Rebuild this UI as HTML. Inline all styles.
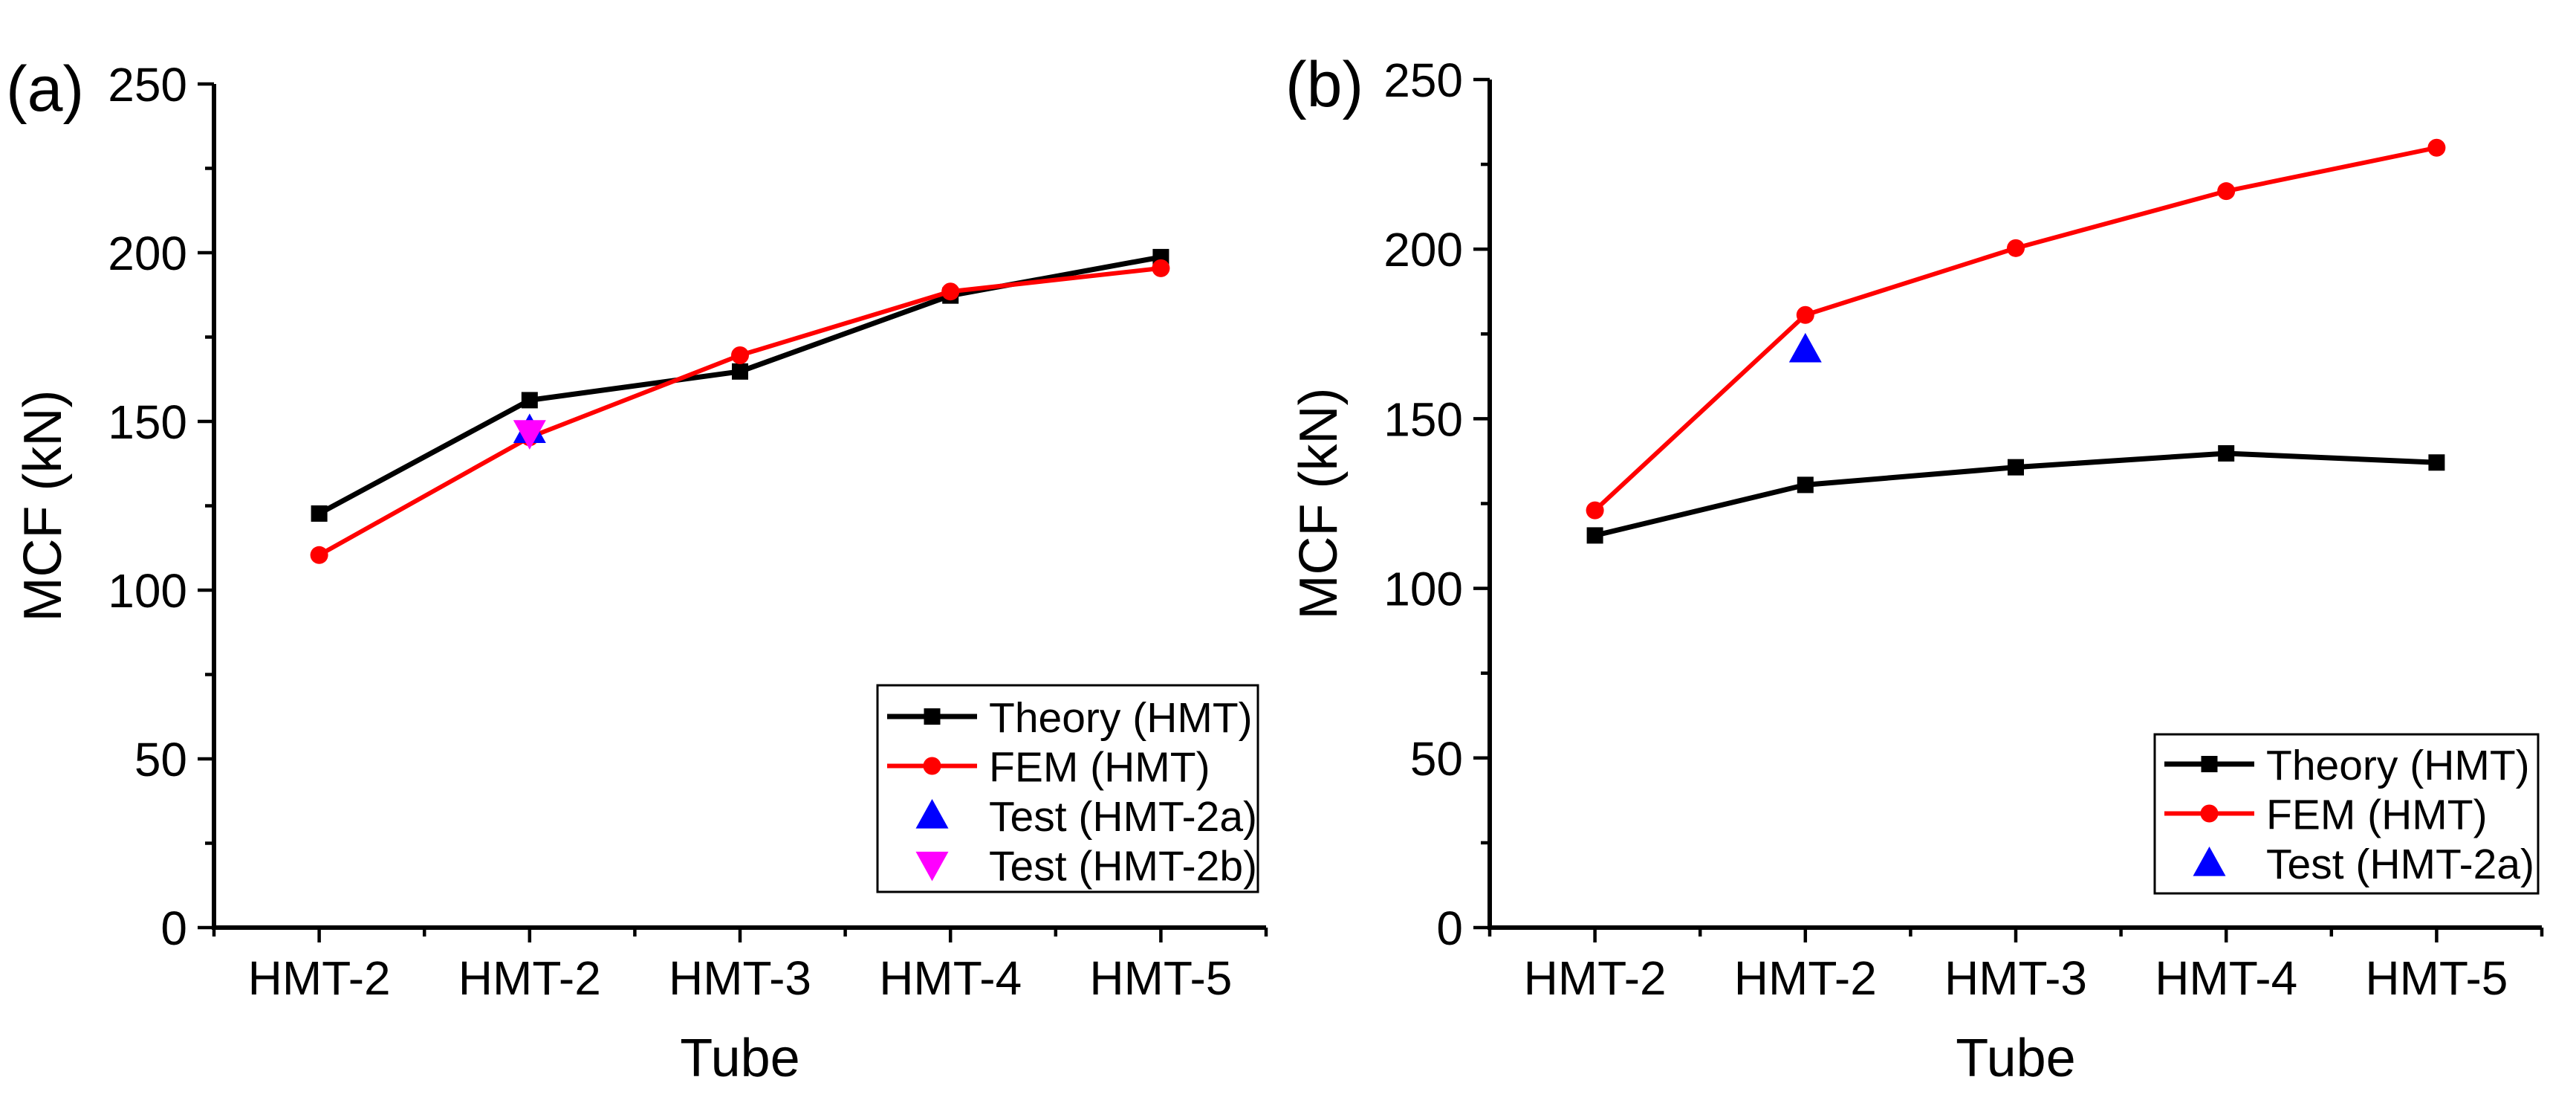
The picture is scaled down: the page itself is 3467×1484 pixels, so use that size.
<!DOCTYPE html>
<html><head><meta charset="utf-8"><style>
html,body{margin:0;padding:0;background:#fff}
svg{display:block;font-family:"Liberation Sans",Arial,sans-serif}
</style></head><body>
<svg id="chart" width="3467" height="1484" viewBox="0 0 3467 1484" xmlns="http://www.w3.org/2000/svg"></svg>
<script>
const categories = ["HMT-2","HMT-2","HMT-3","HMT-4","HMT-5"];
const yTicks = [0,50,100,150,200,250];
const theoryA = [122.7,156.3,164.8,187.3,198.7];
const femA = [110.4,145.3,169.6,188.5,195.4];
const testA2a = [147.5];
const testA2b = [146.5];
const theoryB = [115.6,130.5,135.7,139.8,137.1];
const femB = [123.0,180.6,200.3,217.1,229.9];
const testB2a = [170.5];

const NS="http://www.w3.org/2000/svg";
const svg=document.getElementById('chart');
function mk(tag,attrs,parent,text){const e=document.createElementNS(NS,tag);for(const k in attrs)e.setAttribute(k,attrs[k]);if(text!==undefined)e.textContent=text;(parent||svg).appendChild(e);return e;}

function panel(cfg){
  const g=mk('g',{});
  
  
  const L=cfg.left,R=cfg.right,T=cfg.top,B=cfg.bottom;
  const xs=i=>L+(i+0.5)*(R-L)/categories.length;
  const ys=v=>B-(v/250)*(B-T);
  const ax=mk('path',{d:`M${L},${T} L${L},${B} L${R},${B}`,fill:'none',stroke:'#000','stroke-width':6},g);
  
  
  for(let v=0;v<=250;v+=25){
    const major=v%50===0;
    mk('line',{x1:L-(major?22:12),x2:L,y1:ys(v),y2:ys(v),stroke:'#000','stroke-width':4.5},g);
  }
  yTicks.forEach(v=>{
    const t=mk('text',{x:L-36,y:ys(v)+23,'text-anchor':'end','font-size':64},g,String(v));
    
    
  });
  const step=(R-L)/categories.length;
  for(let i=0;i<=categories.length*2;i++){
    const x=L+i*step/2;
    const major=i%2===1;
    mk('line',{x1:x,x2:x,y1:B,y2:B+(major?20:12),stroke:'#000','stroke-width':4.5},g);
  }
  categories.forEach((c,i)=>{
    const t=mk('text',{x:xs(i),y:B+90,'text-anchor':'middle','font-size':64},g,c);
    
    
  });
  const xt=mk('text',{x:(L+R)/2,y:1448,'text-anchor':'middle','font-size':72},g,'Tube');
  
  
  const yt=mk('text',{x:cfg.ytx,y:(T+B)/2,'text-anchor':'middle','font-size':72,transform:`rotate(-90 ${cfg.ytx} ${(T+B)/2})`},g,'MCF (kN)');
  
  
  const pl=mk('text',{x:cfg.plx,y:T+36,'font-size':86},g,cfg.label);
  
  

  function series(vals,color,marker,name,w){
    const sg=mk('g',{},g);
    
    
    mk('polyline',{points:vals.map((v,i)=>xs(i)+','+ys(v)).join(' '),fill:'none',stroke:color,'stroke-width':w},sg);
    vals.forEach((v,i)=>{
      let m;
      if(marker==='sq') m=mk('rect',{x:xs(i)-11,y:ys(v)-11,width:22,height:22,fill:color},sg);
      else m=mk('circle',{cx:xs(i),cy:ys(v),r:12,fill:color},sg);
      
      
    });
  }
  function tri(cx,cy,color,up){
    const s=22;
    const p=up?`${cx},${cy-s} ${cx-s},${cy+s*0.8} ${cx+s},${cy+s*0.8}`:`${cx},${cy+s} ${cx-s},${cy-s*0.8} ${cx+s},${cy-s*0.8}`;
    return mk('polygon',{points:p,fill:color},g);
  }
  series(cfg.theory,'#000','sq','theory-series',7);
  series(cfg.fem,'#ff0000','ci','fem-series',6);
  cfg.tests.forEach(t=>{
    t.vals.forEach(v=>{
      const m=tri(xs(1),ys(v),t.color,t.up);
      
      
    });
  });
  const lg=mk('g',{},g);
  
  
  const lb=cfg.legend;
  mk('rect',{x:lb.x,y:lb.y,width:lb.w,height:lb.h,fill:'#fff',stroke:'#000','stroke-width':3},lg);
  lb.entries.forEach((e,i)=>{
    const y=lb.ey0+i*66.5;
    const eg=mk('g',{},lg);
    
    
    const lx1=lb.x+13,lx2=lb.x+134,mx=(lx1+lx2)/2;
    if(e.type==='line-sq'){mk('line',{x1:lx1,x2:lx2,y1:y,y2:y,stroke:'#000','stroke-width':7},eg);mk('rect',{x:mx-11,y:y-11,width:22,height:22,fill:'#000'},eg);}
    else if(e.type==='line-ci'){mk('line',{x1:lx1,x2:lx2,y1:y,y2:y,stroke:'#f00','stroke-width':6},eg);mk('circle',{cx:mx,cy:y,r:12,fill:'#f00'},eg);}
    else {eg.appendChild(tri(mx,y,e.color,e.up));}
    mk('text',{x:lb.x+150,y:y+21,'font-size':57},eg,e.text);
  });
}

panel({name:'panel-a',label:'(a)',left:288,right:1704,top:113,bottom:1248,ytx:82,plx:8,
  theory:theoryA,fem:femA,
  tests:[{vals:testA2a,color:'#0000ff',up:true,name:'test-hmt-2a-point'},{vals:testA2b,color:'#ff00ff',up:false,name:'test-hmt-2b-point'}],
  legend:{x:1181,y:922,w:512,h:278,ey0:964,entries:[
    {type:'line-sq',text:'Theory (HMT)'},{type:'line-ci',text:'FEM (HMT)'},
    {type:'tri',color:'#0000ff',up:true,text:'Test (HMT-2a)'},{type:'tri',color:'#ff00ff',up:false,text:'Test (HMT-2b)'}]}
});
panel({name:'panel-b',label:'(b)',left:2005,right:3421,top:107,bottom:1248,ytx:1799,plx:1730,
  theory:theoryB,fem:femB,
  tests:[{vals:testB2a,color:'#0000ff',up:true,name:'test-hmt-2a-point'}],
  legend:{x:2900,y:988,w:516,h:214,ey0:1028,entries:[
    {type:'line-sq',text:'Theory (HMT)'},{type:'line-ci',text:'FEM (HMT)'},
    {type:'tri',color:'#0000ff',up:true,text:'Test (HMT-2a)'}]}
});
</script>
</body></html>
